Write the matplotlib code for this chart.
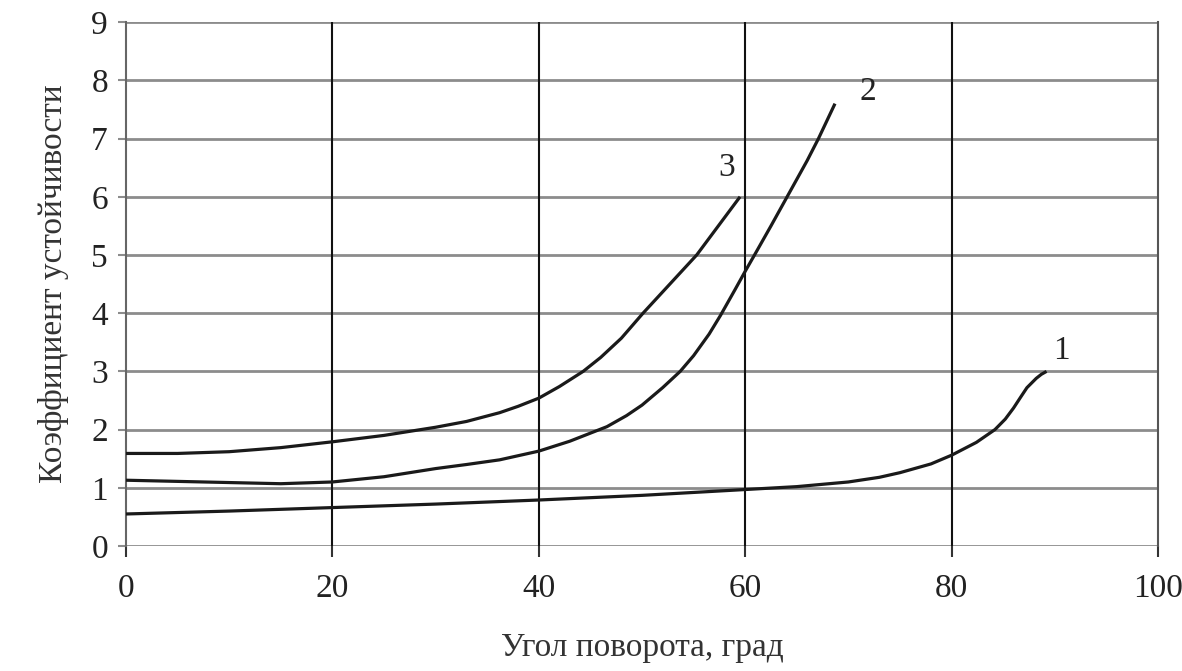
import matplotlib
matplotlib.use('Agg')
import matplotlib.pyplot as plt
import numpy as np

plt.rcParams['font.family'] = ['Liberation Serif', 'DejaVu Serif']

# curve 1
x1 = [0, 10, 20, 30, 40, 50, 60, 65, 70, 73, 75, 78, 80, 82.4, 84.2, 85.2, 86, 86.7, 87.3, 88.2, 88.7, 89.2]
y1 = [0.55, 0.6, 0.66, 0.72, 0.79, 0.87, 0.97, 1.02, 1.1, 1.18, 1.26, 1.41, 1.56, 1.78, 2.0, 2.18, 2.37, 2.56, 2.72, 2.88, 2.95, 3.0]
# curve 2
x2 = [0, 5, 10, 15, 20, 25, 30, 33, 36.2, 40, 43, 46.6, 48.5, 50, 52, 53.7, 55, 56.5, 57.6, 59, 60, 61, 62.5, 64, 66, 67.1, 68.7]
y2 = [1.13, 1.11, 1.09, 1.07, 1.1, 1.19, 1.33, 1.4, 1.48, 1.63, 1.8, 2.05, 2.24, 2.42, 2.72, 3.0, 3.27, 3.64, 3.96, 4.4, 4.72, 5.03, 5.5, 5.98, 6.62, 7.0, 7.6]
# curve 3
x3 = [0, 5, 10, 15, 20, 25, 30, 33, 36.2, 38, 40, 42, 44.3, 46, 48, 50.1, 52.7, 55.3, 57.4, 59.5]
y3 = [1.59, 1.59, 1.62, 1.69, 1.79, 1.9, 2.04, 2.14, 2.29, 2.4, 2.54, 2.74, 3.0, 3.24, 3.57, 4.0, 4.5, 5.0, 5.5, 6.0]

curve_labels = ['1', '2', '3']
label_pos = [(90.6, 3.35), (71.9, 7.8), (58.2, 6.5)]

fig = plt.figure(figsize=(11.82, 6.71), dpi=100)
ax = fig.add_axes([0.1066, 0.1863, 0.8731, 0.7807])

ax.set_xlim(0, 100)
ax.set_ylim(0, 9)
ax.set_xticks(np.arange(0, 101, 20))
ax.set_yticks(np.arange(0, 10, 1))

# horizontal grid gray, vertical grid black
for yv in range(0, 10):
    ax.axhline(yv, color='#8c8c8c', lw=2.0, zorder=1)
for xv in [20, 40, 60, 80]:
    ax.axvline(xv, color='#111111', lw=1.5, zorder=1)

for s in ['top', 'bottom']:
    ax.spines[s].set_visible(False)
ax.spines['left'].set_color('#666666')
ax.spines['right'].set_color('#555555')
ax.spines['left'].set_linewidth(1.5)
ax.spines['right'].set_linewidth(1.5)

ax.tick_params(axis='x', direction='out', length=8, width=1.5, color='#333333',
               labelsize=24, pad=12, labelcolor='#222222')
ax.tick_params(axis='y', direction='out', length=6, width=1.5, color='#8c8c8c',
               labelsize=24, pad=7, labelcolor='#222222')

for xs, ys in [(x1, y1), (x2, y2), (x3, y3)]:
    ax.plot(xs, ys, color='#1a1a1a', lw=2.3, zorder=3,
            solid_capstyle='butt', solid_joinstyle='round')

for lab, (lx, ly) in zip(curve_labels, label_pos):
    ax.text(lx, ly, lab, fontsize=24, ha='center', va='center', color='#222222')

ax.set_xlabel('Угол поворота, град', fontsize=24, labelpad=20, color='#333333')
ax.set_ylabel('Коэффициент устойчивости', fontsize=24, labelpad=16, color='#333333')

fig.savefig('out.png', dpi=100)
